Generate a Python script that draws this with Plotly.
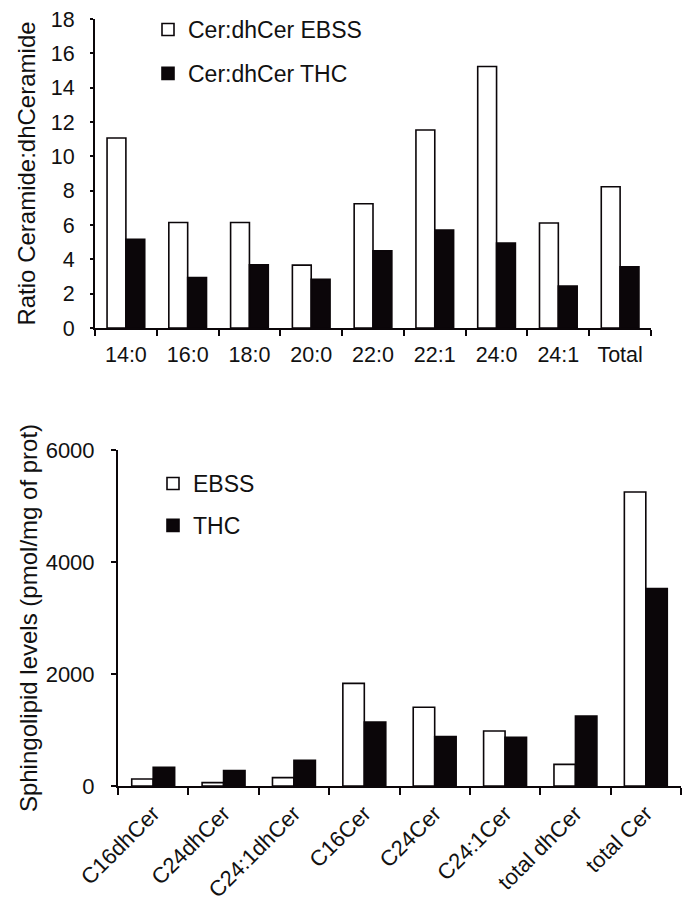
import plotly.graph_objects as go

# Top chart data
ratio_cats = ["14:0", "16:0", "18:0", "20:0", "22:0", "22:1", "24:0", "24:1", "Total"]
ratio_ebss = [11.07, 6.15, 6.15, 3.66, 7.24, 11.53, 15.23, 6.12, 8.23]
ratio_thc = [5.17, 2.94, 3.68, 2.83, 4.49, 5.71, 4.95, 2.44, 3.56]

# Bottom chart data
lipid_cats = ["C16dhCer", "C24dhCer", "C24:1dhCer", "C16Cer", "C24Cer", "C24:1Cer", "total dhCer", "total Cer"]
lipid_ebss = [125, 60, 149, 1833, 1405, 982, 387, 5250]
lipid_thc = [333, 274, 458, 1143, 881, 869, 1250, 3524]

FONT = "Liberation Sans, Arial, sans-serif"
DARK = "#0b0609"
TXT = "#111111"
# page body has an 8px margin, so the figure is slightly smaller than the window
OFF = 8
W, H = 691 - OFF, 904 - OFF


def fx(p):
    return (p - OFF) / W


def fy(p):
    return (H - (p - OFF)) / H


fig = go.Figure()
fig.add_trace(go.Bar(x=ratio_cats, y=ratio_ebss, name="Cer:dhCer EBSS",
                     marker=dict(color="white", line=dict(color=DARK, width=1.6)),
                     xaxis="x", yaxis="y", legend="legend", legendgroup="a"))
fig.add_trace(go.Bar(x=ratio_cats, y=ratio_thc, name="Cer:dhCer THC",
                     marker=dict(color=DARK, line=dict(color=DARK, width=1.6)),
                     xaxis="x", yaxis="y", legend="legend", legendgroup="b"))
fig.add_trace(go.Bar(x=lipid_cats, y=lipid_ebss, name="EBSS",
                     marker=dict(color="white", line=dict(color=DARK, width=1.6)),
                     xaxis="x2", yaxis="y2", legend="legend2", legendgroup="c"))
fig.add_trace(go.Bar(x=lipid_cats, y=lipid_thc, name="THC",
                     marker=dict(color=DARK, line=dict(color=DARK, width=1.6)),
                     xaxis="x2", yaxis="y2", legend="legend2", legendgroup="d"))

axis_common = dict(showline=True, linecolor=DARK, linewidth=2, ticks="outside",
                   tickcolor=DARK, tickwidth=2, showgrid=False, zeroline=False,
                   automargin=False, ticklabeloverflow="allow")

fig.update_layout(
    width=W, height=H,
    margin=dict(l=0, r=0, t=0, b=0),
    paper_bgcolor="white", plot_bgcolor="white",
    barmode="group",
    bargap=0.39,
    bargroupgap=0,
    showlegend=True,
    xaxis=dict(domain=[fx(95), fx(651)], anchor="y", tickson="boundaries", ticklen=6,
               ticklabelstandoff=6,
               tickfont=dict(family=FONT, size=21.5, color=TXT), **axis_common),
    yaxis=dict(domain=[fy(328), fy(19)], anchor="x", range=[0, 18], dtick=2,
               ticklen=3, ticklabelstandoff=11,
               tickfont=dict(family=FONT, size=21.5, color=TXT),
               title=dict(text="Ratio Ceramide:dhCeramide",
                          font=dict(family=FONT, size=24, color=TXT), standoff=8),
               **axis_common),
    xaxis2=dict(domain=[fx(118), fx(681)], anchor="y2", tickson="boundaries", ticklen=7,
                tickangle=-45, ticklabelstandoff=4,
                tickfont=dict(family=FONT, size=22, color=TXT), **axis_common),
    yaxis2=dict(domain=[fy(786), fy(450)], anchor="x2", range=[0, 6000],
                dtick=2000, ticklen=5, ticklabelstandoff=12,
                tickfont=dict(family=FONT, size=22, color=TXT),
                title=dict(text="Sphingolipid levels (pmol/mg of prot)",
                           font=dict(family=FONT, size=24, color=TXT), standoff=1),
                **axis_common),
    legend=dict(x=fx(148), y=fy(8), xanchor="left", yanchor="top",
                font=dict(family=FONT, size=23, color=TXT), tracegroupgap=11,
                bgcolor="rgba(0,0,0,0)"),
    legend2=dict(x=fx(153), y=fy(462), xanchor="left", yanchor="top",
                 font=dict(family=FONT, size=23, color=TXT), tracegroupgap=9,
                 bgcolor="rgba(0,0,0,0)"),
)

fig.write_html("out.html")
